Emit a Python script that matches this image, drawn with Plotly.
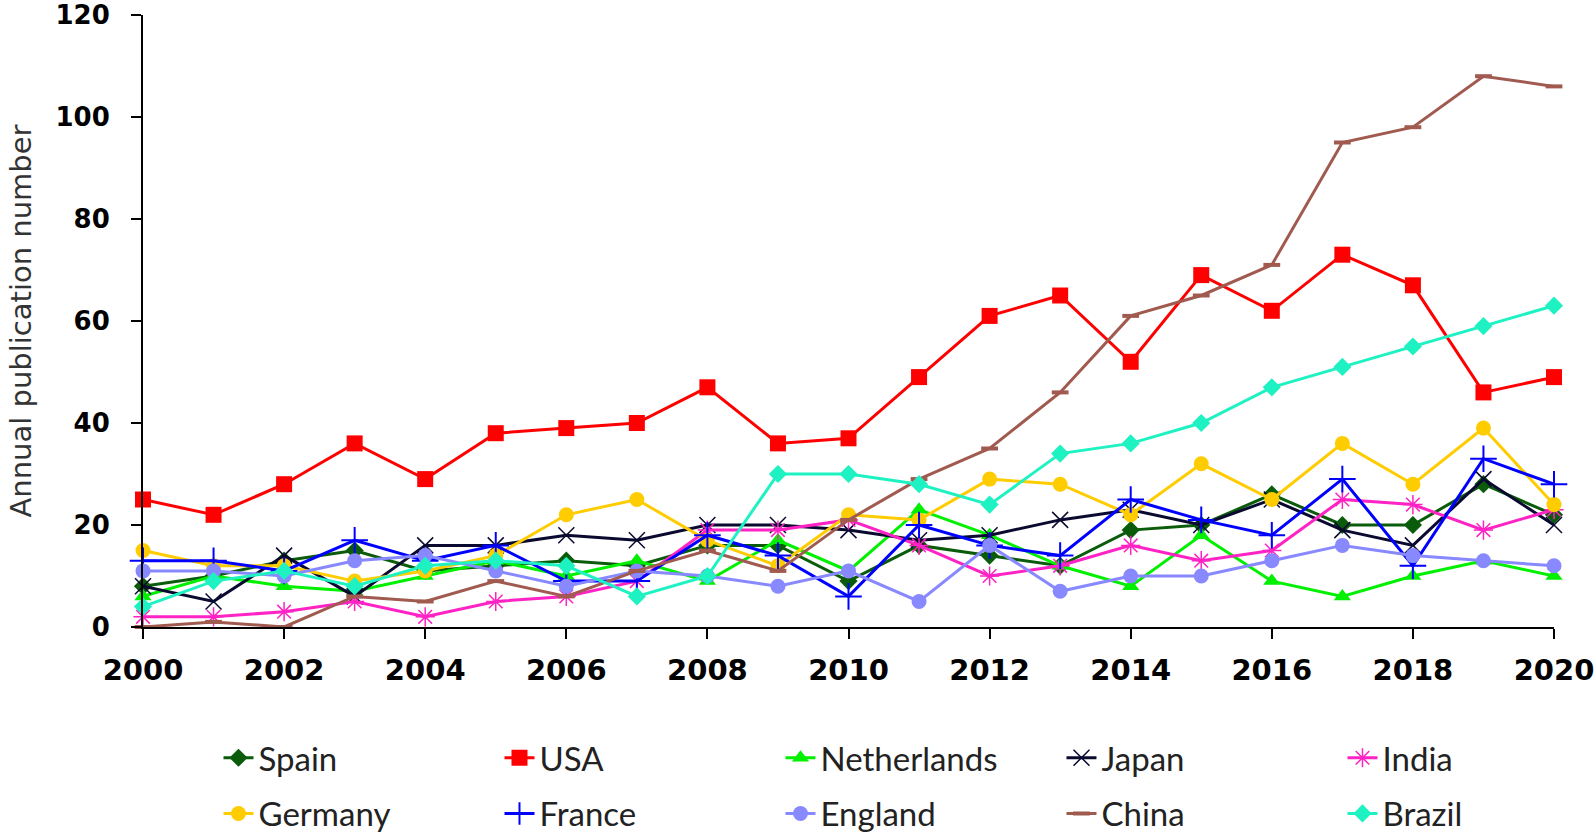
import plotly.graph_objects as go

years = list(range(2000, 2021))

spain = [8, 10, 13, 15, 11, 12, 13, 12, 16, 16, 9, 16, 14, 12, 19, 20, 26, 20, 20, 28, 22]
usa = [25, 22, 28, 36, 29, 38, 39, 40, 47, 36, 37, 49, 61, 65, 52, 69, 62, 73, 67, 46, 49]
netherlands = [6, 10, 8, 7, 10, 13, 10, 13, 9, 17, 11, 23, 18, 12, 8, 18, 9, 6, 10, 13, 10]
japan = [8, 5, 14, 6, 16, 16, 18, 17, 20, 20, 19, 17, 18, 21, 23, 20, 25, 19, 16, 29, 20]
india = [2, 2, 3, 5, 2, 5, 6, 9, 19, 19, 21, 16, 10, 12, 16, 13, 15, 25, 24, 19, 23]
germany = [15, 12, 12, 9, 11, 14, 22, 25, 17, 12, 22, 21, 29, 28, 22, 32, 25, 36, 28, 39, 24]
france = [13, 13, 11, 17, 13, 16, 9, 9, 18, 14, 6, 20, 16, 14, 25, 21, 18, 29, 12, 33, 28]
england = [11, 11, 10, 13, 14, 11, 8, 11, 10, 8, 11, 5, 16, 7, 10, 10, 13, 16, 14, 13, 12]
china = [0, 1, 0, 6, 5, 9, 6, 11, 15, 11, 21, 29, 35, 46, 61, 65, 71, 95, 98, 108, 106]
brazil = [4, 9, 11, 8, 12, 13, 12, 6, 10, 30, 30, 28, 24, 34, 36, 40, 47, 51, 55, 59, 63]

x_tick_vals = list(range(2000, 2021, 2))
y_tick_vals = list(range(0, 121, 20))

series = [
    ("Spain", spain, "#0A5C0A", "diamond", 14, 0, "legend"),
    ("USA", usa, "#FF0000", "square", 16, 0, "legend"),
    ("Netherlands", netherlands, "#00F000", "triangle-up", 15, 0, "legend"),
    ("Japan", japan, "#0A0A30", "x-thin-open", 16, 1.5, "legend"),
    ("India", india, "#FF22C4", "asterisk-open", 16, 1.5, "legend"),
    ("Germany", germany, "#FFCC00", "circle", 15, 0, "legend2"),
    ("France", france, "#0000FF", "cross-thin-open", 19, 2, "legend2"),
    ("England", england, "#8888FF", "circle", 15, 0, "legend2"),
    ("China", china, "#A15A4F", "line-ew-open", 12, 4, "legend2"),
    ("Brazil", brazil, "#1FF2C2", "diamond", 14, 0, "legend2"),
]

fig = go.Figure()
for name, vals, color, sym, size, lw, leg in series:
    marker = dict(symbol=sym, size=size, color=color)
    if sym.endswith("-open"):
        marker["line"] = dict(color=color, width=lw)
    fig.add_trace(go.Scatter(
        x=years, y=vals, name=name, mode="lines+markers",
        line=dict(color=color, width=3),
        marker=marker, cliponaxis=False, legend=leg,
    ))

legend_common = dict(
    orientation="h", xanchor="left", yanchor="top",
    font=dict(family="Lato", size=33, color="#222222"),
    entrywidth=236, entrywidthmode="pixels",
    bgcolor="rgba(0,0,0,0)", itemclick=False,
)

fig.update_layout(
    width=1596, height=838,
    plot_bgcolor="white", paper_bgcolor="white",
    margin=dict(l=143, r=42, t=15, b=211, autoexpand=False),
    showlegend=True,
    legend=dict(x=0.0535, y=-0.168, **legend_common),
    legend2=dict(x=0.0535, y=-0.259, **legend_common),
    xaxis=dict(
        range=[2000, 2020], tickvals=x_tick_vals,
        ticktext=[str(v) for v in x_tick_vals],
        showgrid=False, zeroline=False,
        showline=True, linecolor="black", linewidth=2,
        ticks="outside", ticklen=10, tickwidth=2, tickcolor="black",
        tickfont=dict(family="DejaVu Sans", size=29, color="black", weight="bold"),
        ticklabelstandoff=6,
    ),
    yaxis=dict(
        range=[0, 120], tickvals=y_tick_vals,
        showgrid=False, zeroline=False,
        showline=True, linecolor="black", linewidth=2,
        ticks="outside", ticklen=10, tickwidth=2, tickcolor="black",
        tickfont=dict(family="DejaVu Sans", size=26, color="black", weight="bold"),
        ticklabelstandoff=16,
        title=dict(text="Annual publication number",
                   font=dict(family="DejaVu Sans", size=29, color="#333333"),
                   standoff=15),
    ),
)

fig.write_html("out.html",
               config={"displayModeBar": False},
               post_script="document.body.style.margin='0px';")
